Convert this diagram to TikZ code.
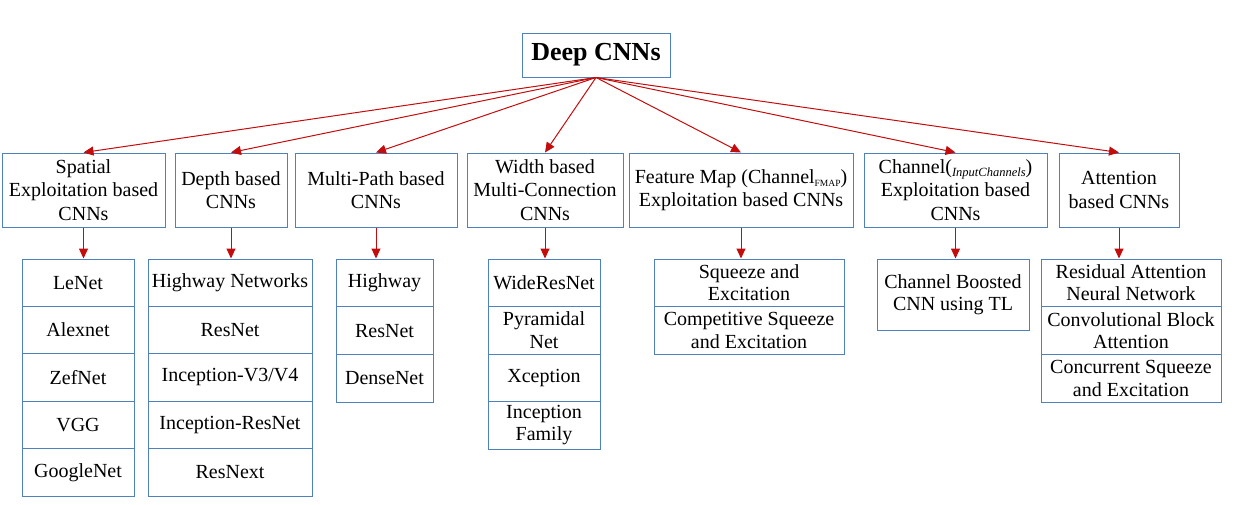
\documentclass[tikz,border=0pt]{standalone}
\usepackage{fontspec}
\setmainfont{Liberation Serif}
\usetikzlibrary{arrows.meta}
\definecolor{boxblue}{RGB}{79,129,189}
\definecolor{linkred}{RGB}{196,12,12}

\begin{document}
\begin{tikzpicture}[x=1pt,y=-1pt,>={Triangle[length=10pt,width=9pt]},
  cat/.style={draw=boxblue,line width=1pt,fill=white,align=center,inner sep=1pt,
    minimum height=74pt,font=\fontsize{20}{23.5}\selectfont},
  cell/.style={draw=boxblue,line width=1pt,align=center,inner sep=1pt,
    font=\fontsize{20}{22.5}\selectfont},
  link/.style={->,linkred,line width=1pt}]
  \useasboundingbox (0,0) rectangle (1235,504);
  \node[draw=boxblue,line width=1pt,minimum width=148pt,minimum height=44pt,
    font=\fontsize{26}{30}\selectfont\bfseries] (root) at (596,55) {Deep CNNs};

  % categories
  \node[cat,minimum width=163pt] (spatial) at (83.5,190) {Spatial\\Exploitation based\\CNNs};
  \node[cat,minimum width=112pt] (depth) at (231,190) {Depth based\\CNNs};
  \node[cat,minimum width=162pt] (multipath) at (376,190) {Multi-Path based\\CNNs};
  \node[cat,minimum width=156pt] (width) at (545,190) {Width based\\Multi-Connection\\CNNs};
  \node[cat,minimum width=224pt] (fmap) at (741,190)
    {Feature Map (Channel\raisebox{-3pt}{\fontsize{9.5}{10}\selectfont FMAP})\\Exploitation based CNNs};
  \node[cat,minimum width=183pt] (channel) at (955.5,190)
    {Channel(\raisebox{-3pt}{\fontsize{12.5}{13}\selectfont\itshape InputChannels})\\Exploitation based\\CNNs};
  \node[cat,minimum width=120pt] (attention) at (1119,190) {Attention\\based CNNs};

  \foreach \c in {spatial,depth,multipath,width,fmap,channel,attention}
    \draw[link] (root.south) -- (\c.north);

  % members
  \foreach \t [count=\i] in {LeNet,Alexnet,ZefNet,VGG,GoogleNet}
    \node[cell,minimum width=112pt,minimum height=47.4pt] (spatial\i) at (78,{259+47.4*(\i-0.5)}) {\t};
  \foreach \t [count=\i] in {Highway Networks,ResNet,Inception-V3/V4,Inception-ResNet,ResNext}
    \node[cell,minimum width=164pt,minimum height=47.4pt] (depth\i) at (230,{259+47.4*(\i-0.5)}) {\t};
  \foreach \t [count=\i] in {Highway,ResNet,DenseNet}
    \node[cell,minimum width=97pt,minimum height=47.7pt] (multipath\i) at (384.5,{259+47.7*(\i-0.5)}) {\t};
  \foreach \t [count=\i] in {WideResNet,{Pyramidal\\Net},Xception,{Inception\\Family}}
    \node[cell,minimum width=112pt,minimum height=47.5pt] (width\i) at (544,{259+47.5*(\i-0.5)}) {\t};
  \foreach \t [count=\i] in {{Squeeze and\\Excitation},{Competitive Squeeze\\and Excitation}}
    \node[cell,minimum width=190pt,minimum height=47.5pt] (fmap\i) at (749,{259+47.5*(\i-0.5)}) {\t};
  \node[cell,minimum width=152pt,minimum height=71pt] (channel1) at (953,294.5) {Channel Boosted\\CNN using TL};
  \foreach \t [count=\i] in {{Residual Attention\\Neural Network},{Convolutional Block\\Attention},{Concurrent Squeeze\\and Excitation}}
    \node[cell,minimum width=180pt,minimum height=47.7pt] (attention\i) at (1131,{259+47.7*(\i-0.5)}) {\t};

  \foreach \c in {spatial,depth,multipath,width,fmap,channel,attention}
    \draw[link] (\c.south) -- (\c.south |- \c1.north);
\end{tikzpicture}
\end{document}
